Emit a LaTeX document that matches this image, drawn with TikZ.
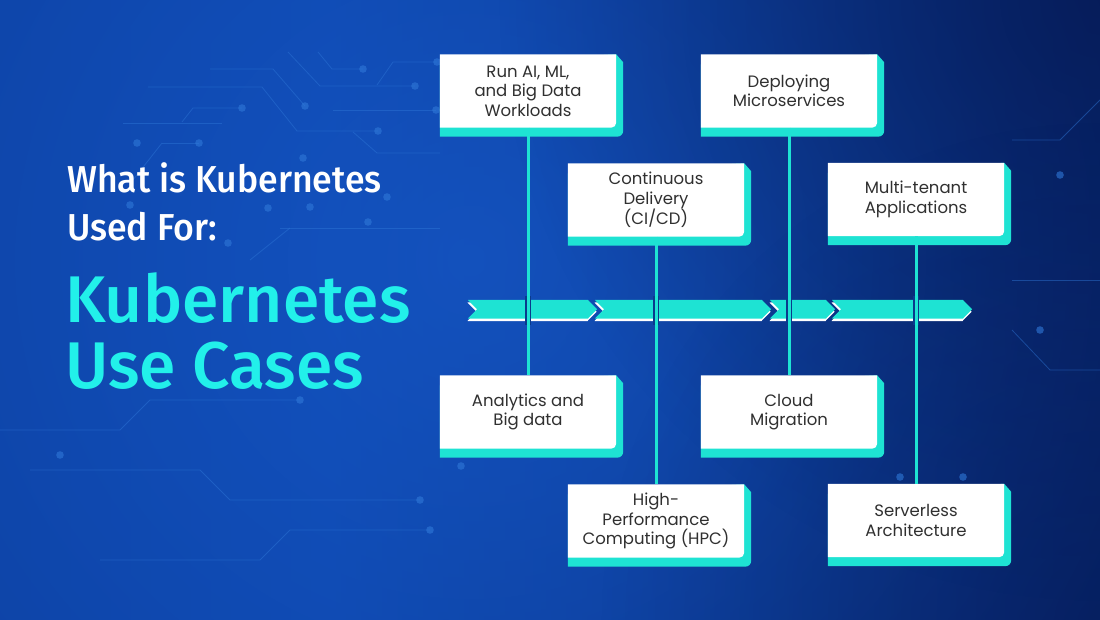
\documentclass[tikz,border=0pt]{standalone}
\usepackage{fontspec}
\setmainfont{Poppins}
\newfontfamily\titlefont{Fira Sans Medium}
\newfontfamily\titlefontw{Fira Sans Medium}[FakeStretch=0.95]
\usetikzlibrary{calc,fadings}
\definecolor{tealbox}{HTML}{1EE3D3}
\definecolor{titleteal}{HTML}{22F0EA}
\definecolor{boxtext}{HTML}{303030}
\definecolor{trace}{HTML}{2F78D8}
\definecolor{bandgap}{HTML}{0A3A8C}
\definecolor{bgL}{HTML}{0A3790}
\definecolor{bgM}{HTML}{0B42A6}
\definecolor{bgR}{HTML}{04144A}
\definecolor{glow}{HTML}{1657C6}
\pgfdeclarehorizontalshading{bgbase}{100bp}{color(0bp)=(bgL); color(40bp)=(bgM); color(70bp)=(bgR!70!bgM); color(100bp)=(bgR)}
\tikzfading[name=softglow, inner color=transparent!0, outer color=transparent!100]
\pgfdeclarelayer{bg}
\pgfsetlayers{bg,main}
\tikzset{
  box/.style={minimum width=176pt, minimum height=73pt, inner sep=0pt, align=center,
    font=\fontsize{16.5}{19.5}\selectfont, text=boxtext},
  conn/.style={draw=tealbox, line width=3pt},
  trace/.style={draw=trace, line width=0.8pt, opacity=0.45},
  tdot/.style={fill=trace, opacity=0.6},
  titlew/.style={anchor=base west, inner sep=0pt, text=white, font=\titlefontw\fontsize{37.5}{40}\selectfont},
  titlet/.style={anchor=base west, inner sep=0pt, text=titleteal, font=\titlefont\fontsize{66}{70}\selectfont}
}
\begin{document}
\begin{tikzpicture}[x=1pt,y=-1pt]
\path[use as bounding box] (0,0) rectangle (1100,620);

% nodes
\node[box] (ai) at (528,91) {Run AI, ML,\\and Big Data\\Workloads};
\node[box] (ms) at (789,91) {Deploying\\Microservices};
\node[box] (cd) at (656,200) {Continuous\\Delivery\\(CI/CD)};
\node[box] (mt) at (916,199.5) {Multi-tenant\\Applications};
\node[box] (an) at (528,412) {Analytics and\\Big data};
\node[box] (cm) at (789,412) {Cloud\\Migration};
\node[box] (hpc) at (656,521) {High-\\Performance\\Computing (HPC)};
\node[box] (sl) at (916,520.5) {Serverless\\Architecture};

\node[titlew] (t1) at (67,193) {What is Kubernetes};
\node[titlew] (t2) at (67,241) {Used For:};
\node[titlet] (t3) at (65,322) {Kubernetes};
\node[titlet] (t4) at (65,388) {Use Cases};

\begin{pgfonlayer}{bg}
  \shade[shading=bgbase] (0,0) rectangle (1100,620);
  \fill[glow, opacity=0.8, path fading=softglow] (470,260) circle (900pt);
  \fill[bgR, opacity=0.6, path fading=softglow] (1100,0) circle (600pt);
  \fill[bgR, opacity=0.4, path fading=softglow] (1100,620) circle (500pt);
  % circuit traces
  \draw[trace] (210,69) -- (273,69) -- (305,106);
  \draw[trace] (148,87) -- (262,87) -- (297,131) -- (378,131);
  \draw[trace] (318,52) -- (332,69) -- (363,69);
  \draw[trace] (288,52) -- (320,86) -- (415,86);
  \draw[trace] (377,85) -- (393,62) -- (437,62);
  \draw[trace] (123,123) -- (222,123);
  \draw[trace] (182,122) -- (193,108) -- (242,108);
  \draw[trace] (162,143) -- (199,143);
  \draw[trace] (162,143) -- (133,180);
  \draw[trace] (333,110) -- (436,110);
  \draw[trace] (353,132) -- (377,153) -- (440,153);
  \draw[trace] (280,228) -- (440,228);
  \draw[trace] (250,260) -- (290,228);
  \draw[trace] (0,430) -- (120,430) -- (150,400) -- (300,400);
  \draw[trace] (30,470) -- (200,470) -- (230,500) -- (420,500);
  \draw[trace] (100,560) -- (260,560) -- (290,530) -- (430,530);
  \draw[trace] (1012,140) -- (1060,140) -- (1100,100);
  \draw[trace] (1012,280) -- (1100,280);
  \draw[trace] (1012,330) -- (1050,370) -- (1100,370);
  \foreach \p in {(305,106),(378,131),(363,69),(415,86),(437,62),(242,108),(137,143),(199,143),
     (436,110),(303,158),(130,205),(268,208),(310,207),(387,197),(228,243),(368,222),
     (300,400),(420,500),(430,530),(461,466),(900,477),(963,477),(60,455),(1060,175),(1040,330)}
     \fill[tdot] \p circle (3.8pt);
  % boxes
  \foreach \n in {ai,ms,cd,mt,an,cm,hpc,sl}{
    \fill[tealbox] ($(\n.north west)+(0,10)$) -- (\n.north east) -- ($(\n.north east)+(7,8)$)
      [rounded corners=6pt] -- ($(\n.south east)+(7,9)$) [sharp corners] -- ($(\n.south west)+(0,9)$) -- cycle;
    \fill[white] (\n.north west) -- (\n.north east) [rounded corners=5pt] -- (\n.south east)
      [sharp corners] -- (\n.south west) -- cycle;
  }
\end{pgfonlayer}

% chevron band
\foreach \l/\r in {468/588, 595/762, 770/826, 832/963}{
  \fill[white, shift={(-0.5,2.5)}] (\l,300) -- (\l+9,309.25) -- (\l,318.5) -- (\r,318.5) -- (\r+9,309.25) -- (\r,300) -- cycle;
  \fill[tealbox] (\l,300) -- (\l+9,309.25) -- (\l,318.5) -- (\r,318.5) -- (\r+9,309.25) -- (\r,300) -- cycle;
}

% connectors
\begin{scope}
  \clip (460,297) rectangle (985,324);
  \foreach \a/\b in {ai/an, cd/hpc, ms/cm, mt/sl}
    \draw[line width=5.5pt, bandgap] (\a) -- (\b);
\end{scope}
\foreach \a/\b in {ai/an, cd/hpc, ms/cm, mt/sl}
  \draw[conn] (\a) -- (\b);
\end{tikzpicture}
\end{document}
